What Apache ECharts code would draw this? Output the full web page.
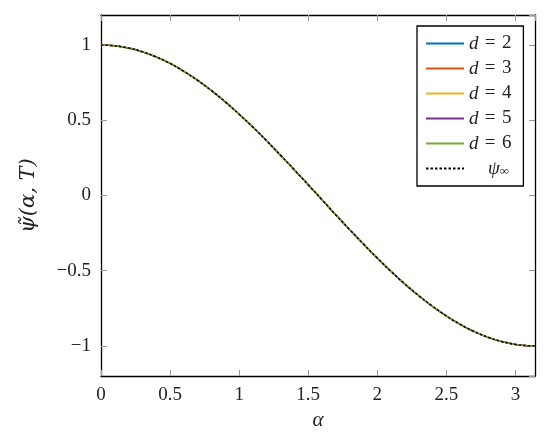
<!DOCTYPE html>
<html>
<head>
<meta charset="utf-8">
<script src="https://cdn.jsdelivr.net/npm/echarts@6/dist/echarts.min.js"></script>
<style>
  html, body { margin: 0; padding: 0; background: #fff; }
  #chart { width: 550px; height: 437px; }
</style>
</head>
<body>
<div id="chart"></div>
<script>
// alpha samples and curve values (all series overlap)
const alphaVals = [0, 0.1, 0.2, 0.3, 0.4, 0.5, 0.6, 0.7, 0.8, 0.9, 1.0, 1.1, 1.2, 1.3, 1.4, 1.5,
  1.6, 1.7, 1.8, 1.9, 2.0, 2.1, 2.2, 2.3, 2.4, 2.5, 2.6, 2.7, 2.8, 2.9, 3.0, 3.1, 3.1416];
const psiCurve = [1, 0.995, 0.98, 0.955, 0.921, 0.878, 0.825, 0.765, 0.697, 0.622, 0.54, 0.454,
  0.362, 0.267, 0.17, 0.071, -0.029, -0.129, -0.227, -0.323, -0.416, -0.505, -0.589, -0.666,
  -0.737, -0.801, -0.857, -0.904, -0.942, -0.971, -0.99, -0.999, -1];
const dNames = ['d = 2', 'd = 3', 'd = 4', 'd = 5', 'd = 6'];
const dColors = ['#0072bd', '#d95319', '#edb120', '#7e2f8e', '#77ac30'];
const limitName = 'psi_inf';

const FONT = "'Liberation Serif', 'DejaVu Serif', serif";
const pairs = alphaVals.map((a, i) => [a, psiCurve[i]]);
const fmtNum = v => (v < 0 ? '\u2212' : '') + Math.abs(v);

const series = dNames.map((name, i) => ({
  name, type: 'line', data: pairs, symbol: 'none', smooth: true,
  lineStyle: { color: dColors[i], width: 1.5 },
  itemStyle: { color: dColors[i] },
}));
series.push({
  name: limitName, type: 'line', data: pairs, symbol: 'none', smooth: true,
  lineStyle: { color: '#000', width: 1.4, type: [2.5, 2] },
  itemStyle: { color: '#000' },
});

const tick = { show: true, inside: true, length: 6, lineStyle: { color: '#999', width: 1 } };
const border = { show: true, onZero: false, lineStyle: { color: '#000', width: 1.3 } };
const label = { fontFamily: FONT, fontSize: 19, color: '#222' };

const chart = echarts.init(document.getElementById('chart'));
chart.setOption({
  animation: false,
  grid: { left: 101, right: 15, top: 15, bottom: 61 },
  legend: {
    orient: 'vertical', left: 417, top: 26,
    padding: [8, 12, 8, 8], itemGap: 6, itemWidth: 38, itemHeight: 14,
    backgroundColor: '#fff', borderColor: '#000', borderWidth: 1.3,
    itemStyle: { opacity: 0 },
    data: [...dNames, limitName],
    formatter: name => name === limitName
      ? '    {i|\u03c8}{s|\u221e}'
      : '{i|d}\u200a = \u200a' + name.split('= ')[1],
    textStyle: {
      fontFamily: FONT, fontSize: 19, lineHeight: 19, color: '#222',
      rich: {
        i: { fontFamily: FONT, fontStyle: 'italic', fontSize: 19, lineHeight: 19 },
        s: { fontFamily: FONT, fontSize: 13, lineHeight: 19, padding: [6, 0, 0, 0] },
      },
    },
  },
  xAxis: [{
    type: 'value', min: 0, max: Math.PI, interval: 0.5,
    axisLine: border, axisTick: tick, splitLine: { show: false },
    axisLabel: { ...label, margin: 10, showMaxLabel: false, formatter: fmtNum },
    name: '\u03b1', nameLocation: 'middle', nameGap: 30,
    nameTextStyle: { fontFamily: FONT, fontStyle: 'italic', fontSize: 21, color: '#222' },
  }, {
    type: 'value', min: 0, max: Math.PI, interval: 0.5, position: 'top',
    axisLine: border, axisTick: tick, axisLabel: { show: false }, splitLine: { show: false },
  }],
  yAxis: [{
    type: 'value', min: -1.2, max: 1.2, splitNumber: 5,
    axisLine: border, axisTick: tick, splitLine: { show: false },
    axisLabel: { ...label, margin: 10, showMinLabel: false, showMaxLabel: false, formatter: fmtNum },
    name: '\u03c8\u0303(\u03b1, T)', nameLocation: 'middle', nameGap: 62,
    nameTextStyle: { fontFamily: "'DejaVu Serif', serif", fontStyle: 'italic', fontSize: 21, color: '#222' },
  }, {
    type: 'value', min: -1.2, max: 1.2, splitNumber: 5, position: 'right',
    axisLine: border, axisTick: tick, axisLabel: { show: false }, splitLine: { show: false },
  }],
  series,
});
</script>
</body>
</html>
